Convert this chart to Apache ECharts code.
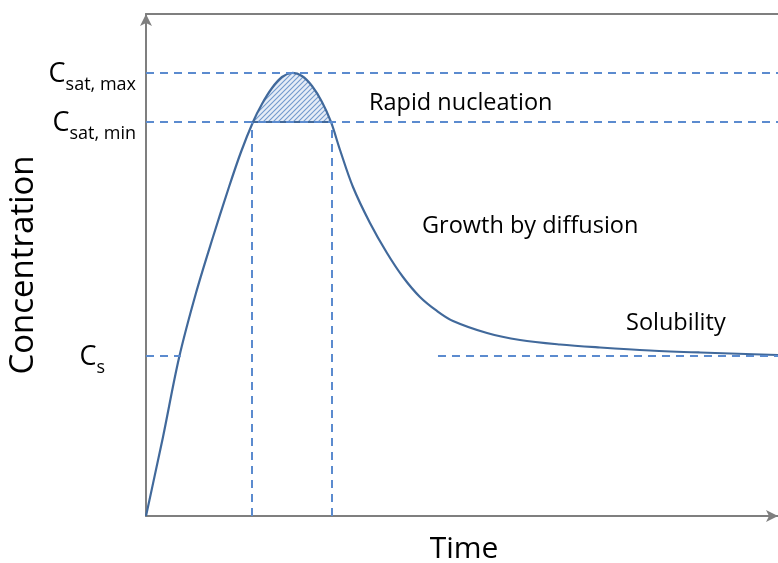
<!DOCTYPE html>
<html>
<head>
<meta charset="utf-8">
<script src="https://cdn.jsdelivr.net/npm/echarts@6/dist/echarts.min.js"></script>
<style>
html,body{margin:0;padding:0;background:#fff;}
#chart{width:778px;height:563px;}
</style>
</head>
<body>
<div id="chart"></div>
<script>
// ---- data (Time: 0..100, Concentration: 0..100, arbitrary units) ----
const curveTime = [0, 2.69, 5.22, 7.91, 10.60, 13.13, 15.03, 16.93, 18.35, 19.94, 21.52, 23.10, 24.68, 26.27, 27.85, 29.27, 30.70, 32.75, 35.44, 38.13, 40.66, 43.35, 46.04, 48.58, 53.96, 59.18, 65.51, 71.84, 79.75, 87.66, 100];
const curveConc = [0, 15.74, 31.47, 44.42, 55.58, 65.54, 72.51, 78.49, 82.07, 85.26, 87.45, 88.25, 87.65, 85.66, 82.47, 78.49, 72.91, 65.54, 58.37, 52.39, 47.61, 43.63, 40.84, 38.84, 36.45, 35.06, 34.16, 33.57, 32.97, 32.57, 32.07];
const levelNames = ['Cs', 'Csat,min', 'Csat,max'];
const levelValues = [31.87, 78.49, 88.25];
const nucleationTimes = [16.77, 29.43];
const csLeftEnd = 5.5;
const csRightStart = 46.2;
const annotations = ['Rapid nucleation', 'Growth by diffusion', 'Solubility'];

const FONT = '"Open Sans", "Noto Sans", sans-serif';
const curveColor = '#41699b';
const dashColor = '#5b8bcf';
const axisColor = '#7f7f7f';

const curveData = curveTime.map((t, i) => [t, curveConc[i]]);
const csVal = levelValues[0], minVal = levelValues[1], maxVal = levelValues[2];
// indices of the supersaturated cap (between the two Csat,min crossings)
const capIdx = curveData.map((p, i) => i).filter(i => curveData[i][0] >= nucleationTimes[0] && curveData[i][0] <= nucleationTimes[1] && curveData[i][1] >= minVal - 0.01);

// chord-length Catmull-Rom spline through pixel points, segment range [i0, i1]
function splinePath(pts, i0, i1) {
  const dist = (a, b) => Math.hypot(b[0] - a[0], b[1] - a[1]) || 1e-6;
  const tangent = i => {
    const a = pts[i - 1] || pts[i], b = pts[i + 1] || pts[i];
    const len = (pts[i - 1] ? dist(pts[i - 1], pts[i]) : 0) + (pts[i + 1] ? dist(pts[i], pts[i + 1]) : 0);
    return [(b[0] - a[0]) / len, (b[1] - a[1]) / len];
  };
  let d = 'M' + pts[i0][0] + ' ' + pts[i0][1];
  for (let i = i0; i < i1; i++) {
    const p1 = pts[i], p2 = pts[i + 1];
    const L = dist(p1, p2) / 3;
    const m1 = tangent(i), m2 = tangent(i + 1);
    const c1x = p1[0] + m1[0] * L, c1y = p1[1] + m1[1] * L;
    const c2x = p2[0] - m2[0] * L, c2y = p2[1] - m2[1] * L;
    d += ' C' + c1x + ' ' + c1y + ' ' + c2x + ' ' + c2y + ' ' + p2[0] + ' ' + p2[1];
  }
  return d;
}

// hatch pattern
const pc = document.createElement('canvas');
pc.width = 5; pc.height = 5;
const g = pc.getContext('2d');
g.fillStyle = '#e6edf7'; g.fillRect(0, 0, 5, 5);
g.strokeStyle = '#7299cc'; g.lineWidth = 1.1;
g.beginPath();
g.moveTo(-1, 6); g.lineTo(6, -1);
g.moveTo(-1, 1); g.lineTo(1, -1);
g.moveTo(4, 6); g.lineTo(6, 4);
g.stroke();

const labelFor = {};
labelFor[csVal] = '{c|C}{sub|s}{gap|}';
labelFor[minVal] = '{c|C}{sub|sat, min}';
labelFor[maxVal] = '{c|C}{sub|sat, max}';

const chart = echarts.init(document.getElementById('chart'), null, {renderer: 'canvas'});
chart.setOption({
  animation: false,
  backgroundColor: '#fff',
  grid: {left: 146, right: 0, top: 14, bottom: 47, containLabel: false, outerBoundsMode: 'none'},
  xAxis: [{
    type: 'value', min: 0, max: 100,
    name: 'Time', nameLocation: 'middle', nameGap: 18,
    nameTextStyle: {fontFamily: FONT, fontSize: 30, color: '#000', verticalAlign: 'top', padding: [0, 0, 0, 4]},
    axisLine: {show: true, onZero: false, lineStyle: {color: axisColor, width: 2}, symbol: ['none', 'arrow'], symbolSize: [9, 12]},
    axisTick: {show: false}, axisLabel: {show: false}, splitLine: {show: false}
  }, {
    type: 'value', min: 0, max: 100, position: 'top',
    axisLine: {show: true, onZero: false, lineStyle: {color: axisColor, width: 2}},
    axisTick: {show: false}, axisLabel: {show: false}, splitLine: {show: false}
  }],
  yAxis: {
    type: 'value', min: 0, max: 100,
    name: 'Concentration', nameLocation: 'middle', nameGap: 106, nameRotate: 90, nameMoveOverlap: false,
    nameTextStyle: {fontFamily: FONT, fontSize: 33, color: '#000'},
    axisLine: {show: true, onZero: false, lineStyle: {color: axisColor, width: 2}, symbol: ['none', 'arrow'], symbolSize: [9, 12]},
    axisTick: {show: false}, splitLine: {show: false},
    axisLabel: {
      show: true, margin: 10, customValues: levelValues,
      formatter: v => labelFor[v] || '',
      rich: {
        c: {fontFamily: FONT, fontSize: 27, color: '#000', verticalAlign: 'bottom', lineHeight: 30, padding: [8, 0, 0, 0]},
        sub: {fontFamily: FONT, fontSize: 18, color: '#000', verticalAlign: 'bottom', lineHeight: 22, padding: [0, 0, -6, 0]},
        gap: {width: 31}
      }
    }
  },
  series: [{
    // hatched supersaturation cap
    type: 'custom',
    data: [[0, 0]],
    renderItem: (params, api) => {
      const pts = curveData.map(p => api.coord(p));
      const i0 = capIdx[0], i1 = capIdx[capIdx.length - 1];
      const d = splinePath(pts, i0, i1) + ' Z';
      return {type: 'path', shape: {pathData: d}, style: {fill: {image: pc, repeat: 'repeat'}, stroke: null}};
    },
    z: 1
  }, {
    // concentration curve
    type: 'custom',
    data: [[0, 0]],
    renderItem: (params, api) => {
      const pts = curveData.map(p => api.coord(p));
      const d = splinePath(pts, 0, pts.length - 1);
      return {type: 'path', shape: {pathData: d}, style: {fill: 'none', stroke: curveColor, lineWidth: 2.2, lineJoin: 'round'}};
    },
    z: 3
  }, {
    type: 'line',
    data: [[nucleationTimes[0], minVal], [nucleationTimes[1], minVal]],
    showSymbol: false,
    lineStyle: {color: curveColor, width: 2},
    z: 3,
    markLine: {
      silent: true, symbol: 'none', label: {show: false},
      lineStyle: {color: dashColor, width: 2, type: [8, 6]},
      data: [
        {yAxis: maxVal},
        {yAxis: minVal},
        [{coord: [0, csVal]}, {coord: [csLeftEnd, csVal]}],
        [{coord: [csRightStart, csVal]}, {coord: [100, csVal]}],
        [{coord: [nucleationTimes[0], 0]}, {coord: [nucleationTimes[0], minVal]}],
        [{coord: [nucleationTimes[1], 0]}, {coord: [nucleationTimes[1], minVal]}]
      ]
    }
  }],
  graphic: [
    {type: 'text', left: 369, top: 91, style: {text: annotations[0], font: '23.5px ' + FONT, fill: '#000'}},
    {type: 'text', left: 422, top: 214, style: {text: annotations[1], font: '23.5px ' + FONT, fill: '#000'}},
    {type: 'text', left: 626, top: 311, style: {text: annotations[2], font: '23.5px ' + FONT, fill: '#000'}}
  ]
});
</script>
</body>
</html>
